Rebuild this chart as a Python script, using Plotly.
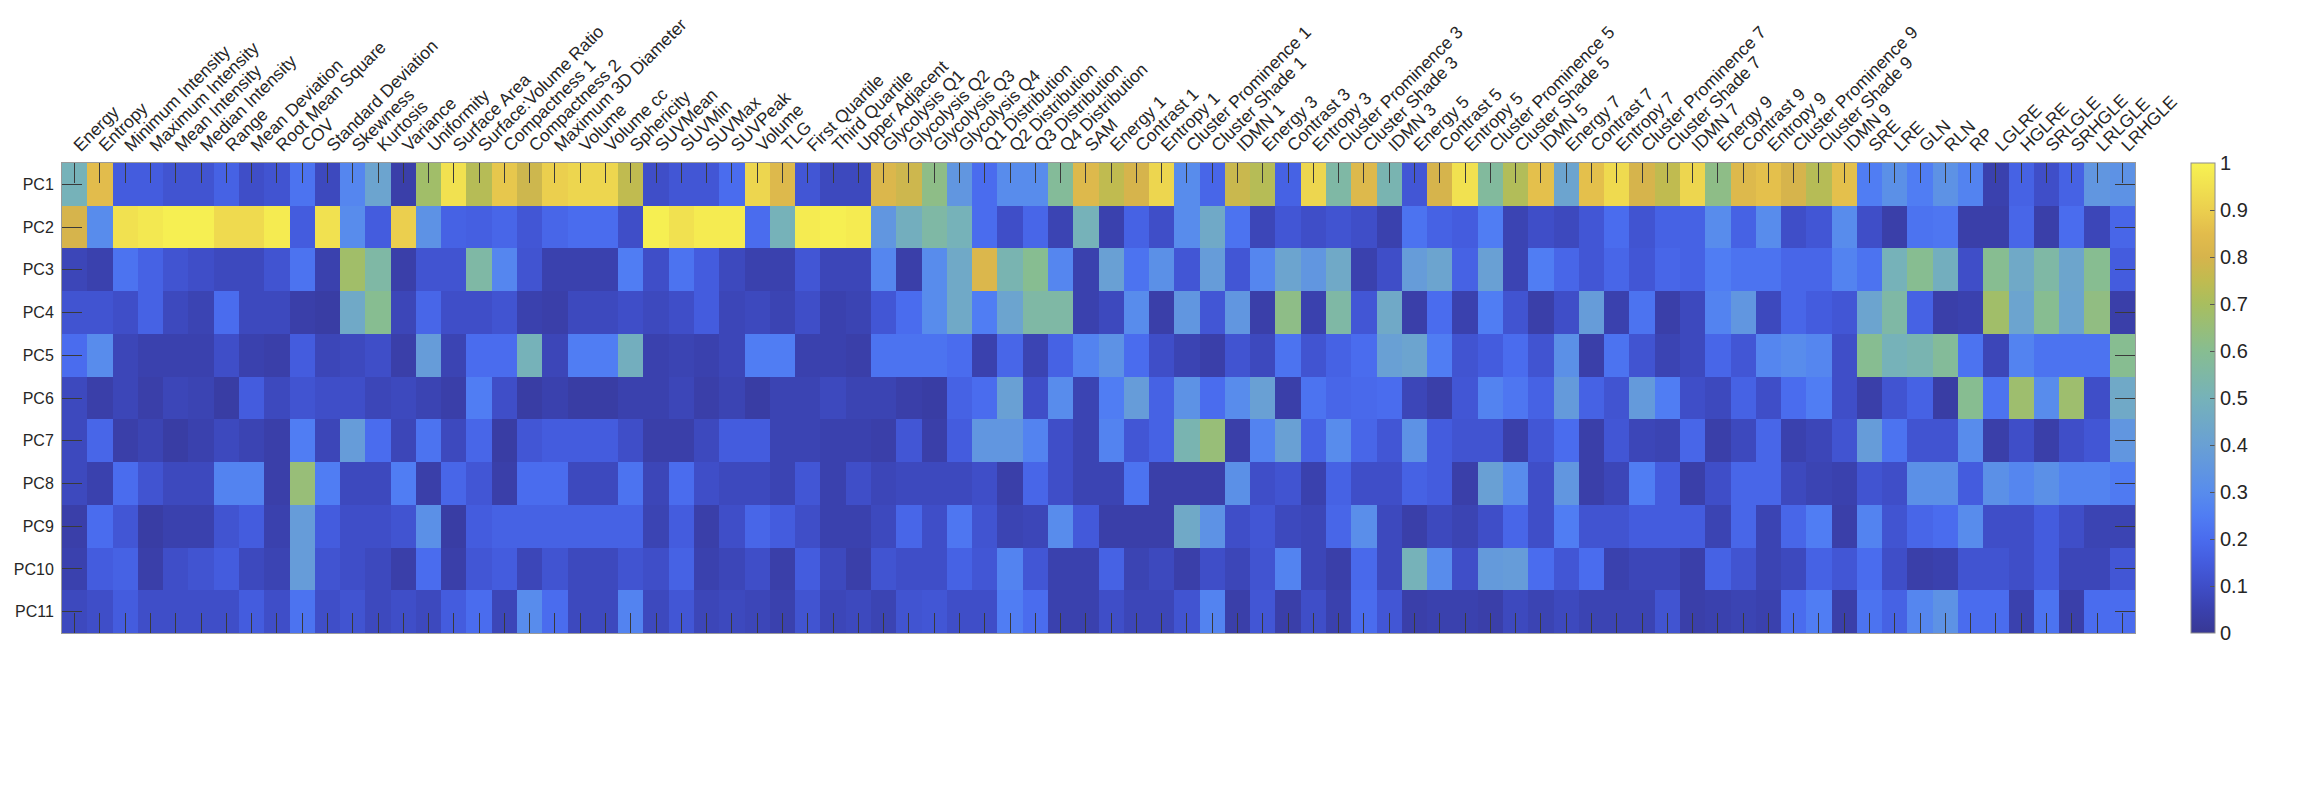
import plotly.graph_objects as go

features = [
    "Energy", "Entropy", "Minimum Intensity", "Maximum Intensity", "Mean Intensity",
    "Median Intensity", "Range", "Mean Deviation", "Root Mean Square", "COV",
    "Standard Deviation", "Skewness", "Kurtosis", "Variance", "Uniformity",
    "Surface Area", "Surface:Volume Ratio", "Compactness 1", "Compactness 2",
    "Maximum 3D Diameter", "Volume", "Volume cc", "Sphericity", "SUVMean", "SUVMin",
    "SUVMax", "SUVPeak", "Volume", "TLG", "First Quartile", "Third Quartile",
    "Upper Adjacent", "Glycolysis Q1", "Glycolysis Q2", "Glycolysis Q3", "Glycolysis Q4",
    "Q1 Distribution", "Q2 Distribution", "Q3 Distribution", "Q4 Distribution", "SAM",
    "Energy 1", "Contrast 1", "Entropy 1", "Cluster Prominence 1", "Cluster Shade 1", "IDMN 1",
    "Energy 3", "Contrast 3", "Entropy 3", "Cluster Prominence 3", "Cluster Shade 3", "IDMN 3",
    "Energy 5", "Contrast 5", "Entropy 5", "Cluster Prominence 5", "Cluster Shade 5", "IDMN 5",
    "Energy 7", "Contrast 7", "Entropy 7", "Cluster Prominence 7", "Cluster Shade 7", "IDMN 7",
    "Energy 9", "Contrast 9", "Entropy 9", "Cluster Prominence 9", "Cluster Shade 9", "IDMN 9",
    "SRE", "LRE", "GLN", "RLN", "RP", "LGLRE", "HGLRE", "SRLGLE", "SRHGLE", "LRLGLE", "LRHGLE",
]

pc_labels = ["PC1", "PC2", "PC3", "PC4", "PC5", "PC6", "PC7", "PC8", "PC9", "PC10", "PC11"]

pc1 = [0.50, 0.85, 0.15, 0.15, 0.12, 0.12, 0.17, 0.10, 0.12, 0.22,
       0.08, 0.28, 0.42, 0.04, 0.68, 0.95, 0.73, 0.88, 0.78, 0.90,
       0.92, 0.92, 0.75, 0.10, 0.13, 0.13, 0.20, 0.92, 0.83, 0.13,
       0.08, 0.08, 0.82, 0.78, 0.62, 0.35, 0.20, 0.30, 0.30, 0.58,
       0.83, 0.75, 0.80, 0.92, 0.30, 0.18, 0.77, 0.73, 0.17, 0.92,
       0.55, 0.83, 0.52, 0.13, 0.80, 0.95, 0.57, 0.72, 0.86, 0.42,
       0.86, 0.93, 0.80, 0.75, 0.92, 0.62, 0.83, 0.86, 0.80, 0.73,
       0.86, 0.25, 0.32, 0.25, 0.33, 0.27, 0.05, 0.17, 0.10, 0.17,
       0.35, 0.33]
pc2 = [0.80, 0.30, 0.95, 0.97, 0.99, 0.99, 0.93, 0.93, 0.98, 0.15,
       0.95, 0.30, 0.15, 0.90, 0.33, 0.17, 0.16, 0.18, 0.13, 0.18,
       0.20, 0.20, 0.10, 0.99, 0.95, 0.98, 0.98, 0.20, 0.50, 0.98,
       0.99, 0.98, 0.35, 0.48, 0.55, 0.50, 0.20, 0.10, 0.18, 0.06,
       0.50, 0.05, 0.17, 0.10, 0.30, 0.45, 0.22, 0.07, 0.13, 0.10,
       0.12, 0.10, 0.05, 0.22, 0.17, 0.15, 0.25, 0.06, 0.10, 0.08,
       0.13, 0.20, 0.12, 0.17, 0.17, 0.30, 0.17, 0.30, 0.10, 0.13,
       0.30, 0.10, 0.04, 0.22, 0.23, 0.04, 0.04, 0.18, 0.04, 0.20,
       0.07, 0.18]
pc3 = [0.07, 0.05, 0.22, 0.17, 0.12, 0.10, 0.08, 0.08, 0.12, 0.22,
       0.05, 0.68, 0.55, 0.04, 0.12, 0.12, 0.55, 0.28, 0.12, 0.05,
       0.05, 0.05, 0.25, 0.10, 0.22, 0.15, 0.08, 0.05, 0.05, 0.13,
       0.07, 0.07, 0.28, 0.04, 0.30, 0.45, 0.82, 0.52, 0.60, 0.28,
       0.05, 0.40, 0.22, 0.32, 0.13, 0.38, 0.13, 0.28, 0.42, 0.35,
       0.45, 0.05, 0.10, 0.38, 0.42, 0.17, 0.40, 0.06, 0.25, 0.18,
       0.13, 0.18, 0.13, 0.18, 0.17, 0.25, 0.22, 0.22, 0.18, 0.18,
       0.27, 0.22, 0.50, 0.60, 0.48, 0.10, 0.60, 0.45, 0.55, 0.43,
       0.60, 0.15]
pc4 = [0.12, 0.12, 0.10, 0.17, 0.08, 0.06, 0.20, 0.08, 0.08, 0.04,
       0.03, 0.45, 0.60, 0.07, 0.18, 0.10, 0.10, 0.12, 0.05, 0.04,
       0.08, 0.08, 0.10, 0.08, 0.10, 0.15, 0.07, 0.08, 0.06, 0.10,
       0.05, 0.06, 0.13, 0.20, 0.30, 0.45, 0.25, 0.42, 0.55, 0.55,
       0.05, 0.08, 0.30, 0.04, 0.35, 0.13, 0.35, 0.04, 0.62, 0.05,
       0.55, 0.13, 0.45, 0.04, 0.20, 0.05, 0.25, 0.12, 0.04, 0.10,
       0.38, 0.05, 0.22, 0.04, 0.08, 0.27, 0.35, 0.08, 0.18, 0.15,
       0.13, 0.42, 0.55, 0.17, 0.04, 0.05, 0.68, 0.42, 0.60, 0.42,
       0.63, 0.04]
pc5 = [0.20, 0.30, 0.07, 0.05, 0.05, 0.05, 0.10, 0.05, 0.04, 0.15,
       0.07, 0.08, 0.10, 0.04, 0.38, 0.06, 0.20, 0.20, 0.50, 0.07,
       0.25, 0.25, 0.48, 0.05, 0.06, 0.05, 0.07, 0.25, 0.25, 0.05,
       0.05, 0.04, 0.22, 0.22, 0.22, 0.20, 0.05, 0.18, 0.06, 0.17,
       0.27, 0.33, 0.20, 0.10, 0.06, 0.04, 0.12, 0.08, 0.22, 0.12,
       0.17, 0.20, 0.40, 0.42, 0.25, 0.12, 0.15, 0.20, 0.12, 0.32,
       0.04, 0.22, 0.12, 0.06, 0.08, 0.18, 0.13, 0.28, 0.30, 0.28,
       0.10, 0.60, 0.50, 0.52, 0.58, 0.22, 0.07, 0.27, 0.22, 0.22,
       0.22, 0.60]
pc6 = [0.08, 0.04, 0.07, 0.04, 0.07, 0.06, 0.03, 0.15, 0.08, 0.12,
       0.10, 0.10, 0.07, 0.08, 0.06, 0.04, 0.25, 0.10, 0.03, 0.05,
       0.03, 0.03, 0.05, 0.05, 0.07, 0.04, 0.06, 0.03, 0.06, 0.06,
       0.08, 0.06, 0.06, 0.04, 0.03, 0.17, 0.20, 0.40, 0.10, 0.30,
       0.06, 0.25, 0.38, 0.17, 0.33, 0.20, 0.30, 0.40, 0.04, 0.22,
       0.18, 0.19, 0.20, 0.07, 0.04, 0.13, 0.27, 0.23, 0.17, 0.37,
       0.17, 0.12, 0.37, 0.25, 0.10, 0.08, 0.17, 0.10, 0.20, 0.25,
       0.10, 0.04, 0.12, 0.17, 0.03, 0.60, 0.22, 0.67, 0.30, 0.67,
       0.10, 0.45]
pc7 = [0.08, 0.18, 0.04, 0.06, 0.03, 0.05, 0.08, 0.06, 0.04, 0.25,
       0.07, 0.38, 0.20, 0.07, 0.22, 0.08, 0.18, 0.03, 0.13, 0.15,
       0.15, 0.15, 0.10, 0.04, 0.04, 0.08, 0.15, 0.15, 0.06, 0.06,
       0.05, 0.05, 0.04, 0.13, 0.04, 0.15, 0.35, 0.35, 0.27, 0.10,
       0.06, 0.27, 0.13, 0.17, 0.52, 0.65, 0.04, 0.27, 0.40, 0.17,
       0.30, 0.18, 0.13, 0.33, 0.15, 0.12, 0.12, 0.04, 0.13, 0.20,
       0.04, 0.13, 0.07, 0.06, 0.18, 0.04, 0.08, 0.18, 0.05, 0.07,
       0.12, 0.38, 0.22, 0.12, 0.12, 0.30, 0.04, 0.10, 0.04, 0.10,
       0.13, 0.35]
pc8 = [0.08, 0.05, 0.20, 0.12, 0.08, 0.08, 0.27, 0.27, 0.04, 0.65,
       0.25, 0.08, 0.08, 0.25, 0.04, 0.18, 0.13, 0.04, 0.20, 0.20,
       0.08, 0.08, 0.22, 0.07, 0.20, 0.10, 0.08, 0.08, 0.06, 0.13,
       0.05, 0.10, 0.07, 0.08, 0.08, 0.08, 0.10, 0.04, 0.18, 0.10,
       0.06, 0.06, 0.22, 0.04, 0.04, 0.04, 0.32, 0.10, 0.12, 0.05,
       0.17, 0.10, 0.10, 0.17, 0.15, 0.04, 0.40, 0.30, 0.10, 0.35,
       0.04, 0.07, 0.25, 0.15, 0.04, 0.10, 0.18, 0.18, 0.08, 0.06,
       0.05, 0.12, 0.10, 0.32, 0.32, 0.15, 0.32, 0.28, 0.32, 0.27,
       0.27, 0.24]
pc9 = [0.04, 0.20, 0.13, 0.03, 0.05, 0.05, 0.12, 0.15, 0.05, 0.38,
       0.15, 0.10, 0.10, 0.12, 0.32, 0.03, 0.15, 0.17, 0.17, 0.17,
       0.17, 0.17, 0.17, 0.06, 0.15, 0.04, 0.10, 0.18, 0.15, 0.10,
       0.05, 0.05, 0.08, 0.18, 0.10, 0.23, 0.12, 0.06, 0.07, 0.30,
       0.14, 0.04, 0.04, 0.04, 0.45, 0.33, 0.10, 0.13, 0.08, 0.07,
       0.18, 0.31, 0.08, 0.04, 0.08, 0.06, 0.10, 0.18, 0.10, 0.25,
       0.12, 0.12, 0.15, 0.15, 0.15, 0.06, 0.18, 0.06, 0.18, 0.25,
       0.04, 0.27, 0.12, 0.18, 0.20, 0.30, 0.10, 0.10, 0.15, 0.10,
       0.06, 0.06]
pc10 = [0.05, 0.15, 0.17, 0.04, 0.10, 0.12, 0.15, 0.08, 0.06, 0.38,
        0.12, 0.10, 0.08, 0.04, 0.20, 0.04, 0.13, 0.15, 0.07, 0.12,
        0.08, 0.08, 0.12, 0.10, 0.17, 0.05, 0.07, 0.10, 0.04, 0.15,
        0.08, 0.04, 0.12, 0.10, 0.10, 0.17, 0.13, 0.27, 0.13, 0.05,
        0.05, 0.17, 0.06, 0.08, 0.04, 0.10, 0.07, 0.12, 0.27, 0.07,
        0.04, 0.19, 0.08, 0.50, 0.30, 0.10, 0.37, 0.38, 0.20, 0.13,
        0.20, 0.05, 0.07, 0.07, 0.04, 0.17, 0.12, 0.06, 0.08, 0.17,
        0.13, 0.20, 0.10, 0.04, 0.05, 0.12, 0.12, 0.10, 0.15, 0.07,
        0.07, 0.13]
pc11 = [0.08, 0.10, 0.15, 0.10, 0.10, 0.10, 0.10, 0.15, 0.10, 0.22,
        0.10, 0.12, 0.08, 0.10, 0.08, 0.15, 0.20, 0.07, 0.30, 0.20,
        0.08, 0.08, 0.27, 0.08, 0.13, 0.07, 0.08, 0.07, 0.05, 0.12,
        0.07, 0.08, 0.06, 0.12, 0.13, 0.10, 0.10, 0.25, 0.20, 0.05,
        0.05, 0.10, 0.07, 0.07, 0.12, 0.27, 0.04, 0.13, 0.04, 0.10,
        0.05, 0.20, 0.13, 0.04, 0.05, 0.05, 0.04, 0.08, 0.06, 0.08,
        0.06, 0.06, 0.06, 0.12, 0.04, 0.05, 0.06, 0.05, 0.20, 0.25,
        0.04, 0.22, 0.17, 0.28, 0.33, 0.20, 0.20, 0.05, 0.22, 0.04,
        0.20, 0.20]

cbar_ticks = [0, 0.1, 0.2, 0.3, 0.4, 0.5, 0.6, 0.7, 0.8, 0.9, 1]
cbar_text = ["0", "0.1", "0.2", "0.3", "0.4", "0.5", "0.6", "0.7", "0.8", "0.9", "1"]

colorscale = [
    [0.00, "rgb(56,56,148)"],
    [0.05, "rgb(58,65,174)"],
    [0.10, "rgb(63,78,200)"],
    [0.15, "rgb(68,92,222)"],
    [0.20, "rgb(74,108,238)"],
    [0.25, "rgb(80,125,243)"],
    [0.30, "rgb(88,140,236)"],
    [0.40, "rgb(105,160,212)"],
    [0.50, "rgb(118,178,185)"],
    [0.60, "rgb(135,189,145)"],
    [0.70, "rgb(168,190,95)"],
    [0.75, "rgb(192,187,80)"],
    [0.80, "rgb(214,180,76)"],
    [0.85, "rgb(226,188,76)"],
    [0.90, "rgb(235,207,78)"],
    [1.00, "rgb(247,242,82)"],
]

z = [pc1, pc2, pc3, pc4, pc5, pc6, pc7, pc8, pc9, pc10, pc11]
xs = list(range(len(features)))
ys = list(range(len(pc_labels)))

FONT = "Liberation Sans, Arial, Helvetica, sans-serif"
TXT = "#262626"

W, H = 2300, 800
ml, mr, mt, mb = 54, 173, 155, 175
plot_w = W - ml - mr

fig = go.Figure(go.Heatmap(
    z=z, x=xs, y=ys, zmin=0, zmax=1, colorscale=colorscale,
    colorbar=dict(
        thickness=24, x=1 + (2183 - (W - mr)) / plot_w, xanchor="left",
        y=0.5, yanchor="middle", len=1, lenmode="fraction", xpad=0, ypad=0,
        outlinecolor="#8c8c8c", outlinewidth=1,
        tickmode="array", tickvals=cbar_ticks, ticktext=cbar_text,
        ticks="inside", ticklen=5, tickcolor="#555555",
        tickfont=dict(family=FONT, size=20, color=TXT),
    ),
    hoverinfo="skip",
))

fig.update_layout(
    width=W, height=H,
    margin=dict(l=ml, r=mr, t=mt, b=mb, autoexpand=False),
    paper_bgcolor="white", plot_bgcolor="white",
    font=dict(family=FONT, color=TXT),
    xaxis=dict(
        side="top", tickmode="array", tickvals=xs, ticktext=features,
        tickangle=-45, ticks="inside", ticklen=20, tickwidth=1, tickcolor="#3a3a3a",
        showline=True, linecolor="#9a9a9a", linewidth=1, mirror="ticks",
        range=[-0.5, len(features) - 0.5], showgrid=False, zeroline=False,
        tickfont=dict(family=FONT, size=17.5, color=TXT),
    ),
    yaxis=dict(
        tickmode="array", tickvals=ys, ticktext=pc_labels,
        ticks="inside", ticklen=20, tickwidth=1, tickcolor="#3a3a3a",
        showline=True, linecolor="#9a9a9a", linewidth=1, mirror="ticks",
        range=[len(pc_labels) - 0.5, -0.5], showgrid=False, zeroline=False,
        ticklabelstandoff=4,
        tickfont=dict(family=FONT, size=16, color=TXT),
    ),
)

fig.write_html("out.html")
